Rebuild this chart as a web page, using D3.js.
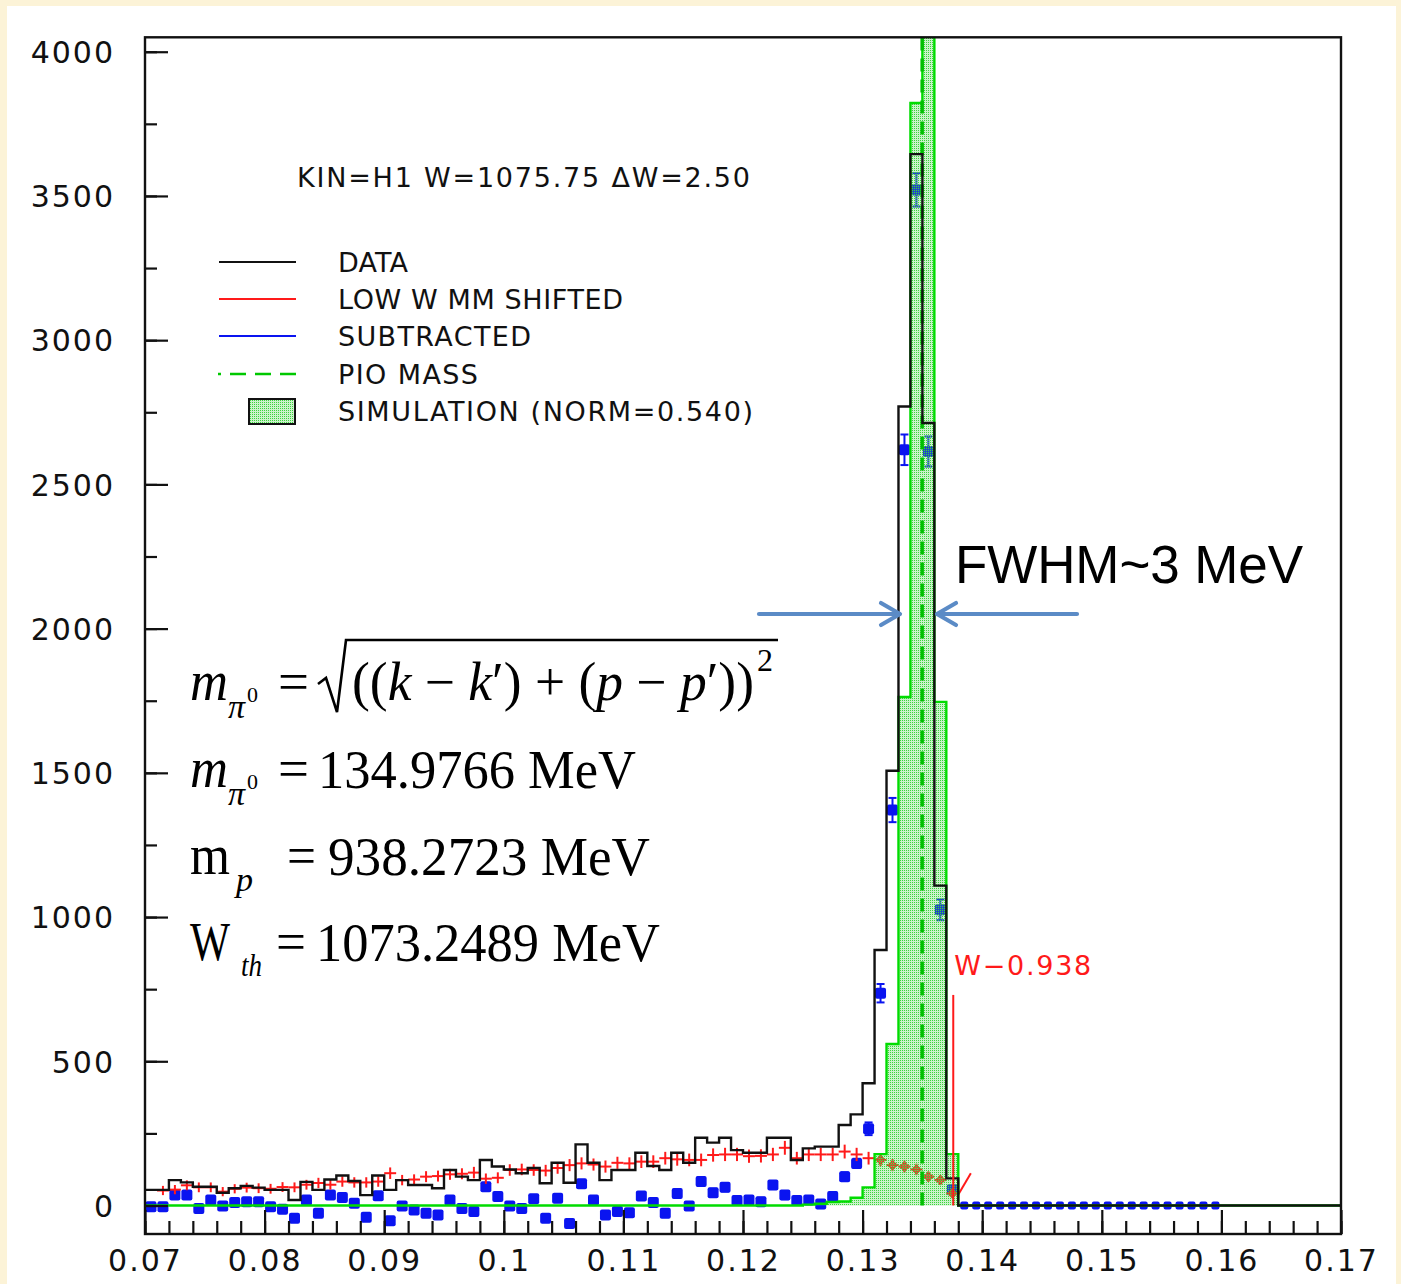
<!DOCTYPE html>
<html>
<head>
<meta charset="utf-8">
<script src="https://cdn.jsdelivr.net/npm/d3@7"></script>
<style>
  html, body { margin: 0; padding: 0; background: #fcf3d7; }
  svg { display: block; }
  .root-text { font-family: "DejaVu Sans", sans-serif; fill: #111; }
  .math { font-family: "Liberation Serif", "Times New Roman", serif; fill: #000; }
</style>
</head>
<body>
<svg id="chart" width="1401" height="1284"></svg>
<script>
// ---- Histogram binning of the missing mass (GeV) ----
const binStart = 0.07;
const binWidth = 0.001;

// DATA: counts per bin, 0.070 .. 0.170
const dataCounts = [
  54, 54, 88, 80, 65, 65, 44, 60, 68, 62,
  54, 54, 19, 82, 54, 90, 104, 85, 36, 104,
  54, 88, 71, 71, 60, 123, 100, 88, 158, 135,
  125, 112, 130, 77, 148, 79, 212, 148, 88, 123,
  123, 183, 137, 123, 183, 148, 235, 218, 235, 192,
  183, 183, 235, 235, 158, 198, 204, 204, 279, 316,
  424, 886, 1507, 2770, 3645, 2713, 1109, 94, 0, 0,
  0, 0, 0, 0, 0, 0, 0, 0, 0, 0,
  0, 0, 0, 0, 0, 0, 0, 0, 0, 0,
  0, 0, 0, 0, 0, 0, 0, 0, 0, 0
];

// LOW W MM SHIFTED: counts per bin starting at bin 1 (0.071)
const shiftedCounts = [
  52, 55, 70, 63, 63, 48, 58, 62, 60,
  58, 64, 63, 72, 78, 72, 83, 80, 80, 83,
  112, 88, 90, 100, 102, 108, 110, 114, 93, 96,
  123, 125, 123, 121, 130, 140, 146, 142, 135, 148,
  146, 152, 152, 164, 160, 158, 158, 175, 177, 177,
  171, 172, 177, 200, 164, 177, 177, 177, 187, 177,
  164, 158, 140, 135, 125, 100, 88, 42
];
const shiftedErr = [
  16, 16, 17, 17, 17, 16, 16, 17, 17,
  17, 17, 17, 17, 18, 17, 18, 18, 18, 18,
  20, 18, 18, 19, 19, 19, 19, 20, 18, 19,
  20, 20, 20, 20, 20, 21, 21, 21, 21, 21,
  21, 22, 22, 22, 22, 22, 22, 23, 23, 23,
  23, 23, 23, 24, 22, 23, 23, 23, 24, 23,
  22, 22, 21, 21, 20, 18, 17, 12
];
// tail of the shifted spectrum past the kinematic end point
const shiftedTail = [[0.13787, 29], [0.13905, 112]];

// SUBTRACTED: counts per bin, 0.070 .. 0.160
const subtractedCounts = [
  -4, -4, 36, 36, -10, 19, -2, 10, 13, 13,
  -4, -13, -44, 19, -27, 36, 28, 8, -41, 34,
  -53, -2, -16, -27, -33, 19, -10, -21, 65, 31,
  -2, -10, 23, -44, 25, -62, 75, 19, -33, -21,
  -25, 33, 10, -27, 42, -2, 83, 44, 63, 17,
  19, 13, 71, 36, 17, 19, 5, 31, 100, 146,
  266, 736, 1371, 2620, 3521, 2614, 1025, 55, 0, 0,
  0, 0, 0, 0, 0, 0, 0, 0, 0, 0,
  0, 0, 0, 0, 0, 0, 0, 0, 0, 0
];
const subtractedErr = [
  8, 8, 9, 9, 8, 8, 8, 8, 8, 8,
  8, 8, 8, 9, 8, 9, 9, 9, 8, 9,
  9, 9, 9, 9, 9, 10, 10, 10, 11, 11,
  11, 11, 11, 11, 12, 12, 13, 12, 12, 12,
  12, 13, 13, 13, 13, 13, 14, 14, 14, 14,
  14, 14, 14, 14, 13, 14, 14, 14, 15, 16,
  22, 32, 42, 53, 58, 52, 36, 12, 3, 3,
  3, 3, 3, 3, 3, 3, 3, 3, 3, 3,
  3, 3, 3, 3, 3, 3, 3, 3, 3, 3
];

// SIMULATION (NORM=0.540): counts per bin, 0.070 .. 0.170
const simulationCounts = [
  0, 0, 0, 0, 0, 0, 0, 0, 0, 0,
  0, 0, 0, 0, 0, 0, 0, 0, 0, 0,
  0, 0, 0, 0, 0, 0, 0, 0, 0, 0,
  0, 0, 0, 0, 0, 0, 0, 0, 0, 0,
  0, 0, 0, 0, 0, 0, 0, 0, 0, 0,
  0, 0, 0, 0, 0, 3, 6, 12, 14, 27,
  63, 178, 560, 1763, 3822, 4600, 1746, 178, 0, 0,
  0, 0, 0, 0, 0, 0, 0, 0, 0, 0,
  0, 0, 0, 0, 0, 0, 0, 0, 0, 0,
  0, 0, 0, 0, 0, 0, 0, 0, 0, 0
];

// reference lines
const pi0Mass = 0.13498;          // PIO MASS (GeV)
const endPoint = 0.13758;         // W-0.938
const endPointTop = 730;

// axes
const xTickValues = [0.07, 0.08, 0.09, 0.10, 0.11, 0.12, 0.13, 0.14, 0.15, 0.16, 0.17];
const xTickLabels = ["0.07", "0.08", "0.09", "0.1", "0.11", "0.12", "0.13", "0.14", "0.15", "0.16", "0.17"];
const yTickValues = [0, 500, 1000, 1500, 2000, 2500, 3000, 3500, 4000];
const yTickLabels = ["0", "500", "1000", "1500", "2000", "2500", "3000", "3500", "4000"];

// legend entries
const legendItems = ["DATA", "LOW W MM SHIFTED", "SUBTRACTED", "PIO MASS", "SIMULATION (NORM=0.540)"];
const kinLabel = "KIN=H1 W=1075.75 \u0394W=2.50";

// ---------------------------------------------------------------
const svg = d3.select("#chart");
const frame = { left: 145, right: 1341, top: 37.3, bottom: 1234 };
const x = d3.scaleLinear().domain([0.07, 0.17]).range([frame.left, frame.right]);
const y = d3.scaleLinear().domain([0, 4050]).range([1205.5, frame.top]);

const GREEN = "#00dc00";
const RED = "#ff1a1a";
const BLUE = "#0a14f0";

// white panel
svg.append("rect").attr("x", 7).attr("y", 6).attr("width", 1389).attr("height", 1284).attr("fill", "#fff");

const defs = svg.append("defs");
// ROOT-style dotted hatch: translucent light green with darker dots
const pat = defs.append("pattern").attr("id", "simFill")
  .attr("patternUnits", "userSpaceOnUse").attr("width", 2).attr("height", 2);
pat.append("rect").attr("width", 2).attr("height", 2).attr("fill", "rgba(80,215,80,0.3)");
pat.append("rect").attr("x", 0).attr("y", 0).attr("width", 1).attr("height", 1).attr("fill", "#3cd43c");

defs.append("clipPath").attr("id", "plotClip").append("rect")
  .attr("x", frame.left).attr("y", frame.top)
  .attr("width", frame.right - frame.left).attr("height", frame.bottom - frame.top);

const plot = svg.append("g").attr("clip-path", "url(#plotClip)");

const lo = i => binStart + i * binWidth;
const hi = i => binStart + (i + 1) * binWidth;
const mid = i => binStart + (i + 0.5) * binWidth;

// step outline of a histogram
function stepPoints(counts, closeBase) {
  const pts = [];
  if (closeBase) pts.push([x(lo(0)), y(0)]);
  counts.forEach((c, i) => { pts.push([x(lo(i)), y(c)]); pts.push([x(hi(i)), y(c)]); });
  if (closeBase) pts.push([x(hi(counts.length - 1)), y(0)]);
  return pts;
}
const line = d3.line();

// ---- SUBTRACTED: filled squares with error bars ----
const sub = plot.append("g");
subtractedCounts.forEach((c, i) => {
  const cx = x(mid(i)), cy = y(c);
  const e = subtractedErr[i];
  const g = sub.append("g").attr("stroke", BLUE).attr("stroke-width", 2);
  if (e > 10) {
    g.append("line").attr("x1", cx).attr("x2", cx).attr("y1", y(c - e)).attr("y2", y(c + e));
    g.append("line").attr("x1", cx - 4).attr("x2", cx + 4).attr("y1", y(c - e)).attr("y2", y(c - e));
    g.append("line").attr("x1", cx - 4).attr("x2", cx + 4).attr("y1", y(c + e)).attr("y2", y(c + e));
  }
  const s = i >= 68 ? 8 : 11;
  sub.append("rect").attr("x", cx - s / 2).attr("y", cy - s / 2).attr("width", s).attr("height", s)
    .attr("rx", 2).attr("fill", BLUE);
});

// ---- LOW W MM SHIFTED: bin-wide bars with vertical error bars ----
const sh = plot.append("g").attr("stroke", RED).attr("stroke-width", 2).attr("fill", "none");
shiftedCounts.forEach((c, k) => {
  const i = k + 1;
  const e = shiftedErr[k];
  sh.append("line").attr("x1", x(lo(i))).attr("x2", x(hi(i))).attr("y1", y(c)).attr("y2", y(c));
  sh.append("line").attr("x1", x(mid(i))).attr("x2", x(mid(i))).attr("y1", y(c - e)).attr("y2", y(c + e));
  if (mid(i) > 0.131) {
    const cx = x(mid(i)), cy = y(c);
    sh.append("path").attr("d", `M${cx - 4},${cy}L${cx},${cy - 4}L${cx + 4},${cy}L${cx},${cy + 4}Z`);
  }
});
plot.append("path").attr("d", line(shiftedTail.map(d => [x(d[0]), y(d[1])])))
  .attr("stroke", RED).attr("stroke-width", 2).attr("fill", "none");

// ---- SIMULATION: pattern-filled histogram ----
const simPts = stepPoints(simulationCounts, true);
plot.append("path").attr("d", line(simPts) + "Z").attr("fill", "url(#simFill)").attr("stroke", "none");
plot.append("path").attr("d", line(simPts)).attr("fill", "none")
  .attr("stroke", GREEN).attr("stroke-width", 2.4);

// ---- PIO MASS line ----
plot.append("line").attr("x1", x(pi0Mass)).attr("x2", x(pi0Mass)).attr("y1", y(0)).attr("y2", y(4050))
  .attr("stroke", "#00c000").attr("stroke-width", 3.5).attr("stroke-dasharray", "13,8");

// ---- DATA histogram ----
plot.append("path").attr("d", line(stepPoints(dataCounts, false))).attr("fill", "none")
  .attr("stroke", "#111").attr("stroke-width", 2.4);

// ---- W-0.938 end point ----
svg.append("line").attr("x1", x(endPoint)).attr("x2", x(endPoint)).attr("y1", y(0)).attr("y2", y(endPointTop))
  .attr("stroke", RED).attr("stroke-width", 2);
svg.append("text").attr("class", "root-text").attr("x", x(endPoint) + 1).attr("y", 975)
  .attr("font-size", 27).style("fill", RED).attr("textLength", 137)
  .text("W\u22120.938");

// ---- frame and axes ----
svg.append("rect").attr("x", frame.left).attr("y", frame.top)
  .attr("width", frame.right - frame.left).attr("height", frame.bottom - frame.top)
  .attr("fill", "none").attr("stroke", "#111").attr("stroke-width", 2.4);

const yMinor = d3.range(0, 4001, 250);
const yAxisMinor = d3.axisLeft(y).tickValues(yMinor).tickSizeInner(-12).tickSizeOuter(0).tickFormat("");
const yAxis = d3.axisLeft(y).tickValues(yTickValues).tickSizeInner(-23).tickSizeOuter(0)
  .tickPadding(30).tickFormat((d, i) => yTickLabels[i]);
const gyMinor = svg.append("g").attr("transform", `translate(${frame.left},0)`).call(yAxisMinor);
const gy = svg.append("g").attr("transform", `translate(${frame.left},0)`).call(yAxis);

const xMinor = d3.range(0, 51).map(k => 0.07 + k * 0.002);
const xAxisMinor = d3.axisBottom(x).tickValues(xMinor).tickSizeInner(-13).tickSizeOuter(0).tickFormat("");
const xAxis = d3.axisBottom(x).tickValues(xTickValues).tickSizeInner(-24).tickSizeOuter(0)
  .tickPadding(16).tickFormat((d, i) => xTickLabels[i]);
const gxMinor = svg.append("g").attr("transform", `translate(0,${frame.bottom})`).call(xAxisMinor);
const gx = svg.append("g").attr("transform", `translate(0,${frame.bottom})`).call(xAxis);

[gy, gyMinor, gx, gxMinor].forEach(g => {
  g.select(".domain").remove();
  g.selectAll(".tick line").attr("stroke", "#111").attr("stroke-width", 2.2);
  g.selectAll(".tick text").attr("class", "root-text").attr("font-size", 30)
    .attr("fill", "#111").style("letter-spacing", "2px");
});
gy.selectAll(".tick text").attr("dy", "0.36em");

// ---- KIN label and legend ----
svg.append("text").attr("class", "root-text").attr("x", 297).attr("y", 187)
  .attr("font-size", 27).attr("textLength", 453).text(kinLabel);

const legendY = [262, 299, 336, 374, 411];
const lg = svg.append("g");
lg.append("line").attr("x1", 219).attr("x2", 296).attr("y1", legendY[0]).attr("y2", legendY[0])
  .attr("stroke", "#111").attr("stroke-width", 2);
lg.append("line").attr("x1", 219).attr("x2", 296).attr("y1", legendY[1]).attr("y2", legendY[1])
  .attr("stroke", RED).attr("stroke-width", 2);
lg.append("line").attr("x1", 219).attr("x2", 296).attr("y1", legendY[2]).attr("y2", legendY[2])
  .attr("stroke", BLUE).attr("stroke-width", 2);
lg.append("line").attr("x1", 296).attr("x2", 218).attr("y1", legendY[3]).attr("y2", legendY[3])
  .attr("stroke", "#00c800").attr("stroke-width", 2.5).attr("stroke-dasharray", "16,9");
lg.append("rect").attr("x", 249).attr("y", legendY[4] - 12).attr("width", 46).attr("height", 25)
  .attr("fill", "url(#simFill)").attr("stroke", "#111").attr("stroke-width", 2);
const legendLen = [70, 285, 193, 140, 415];
legendItems.forEach((t, i) => {
  lg.append("text").attr("class", "root-text").attr("x", 338).attr("y", legendY[i] + 10)
    .attr("font-size", 27).attr("textLength", legendLen[i]).text(t);
});

// ---- kinematics formulas ----
const fm = svg.append("g").attr("class", "math");
function put(txt, px, py, size, italic, len) {
  const t = fm.append("text").attr("x", px).attr("y", py).attr("font-size", size).text(txt);
  if (italic) t.attr("font-style", "italic");
  if (len) t.attr("textLength", len).attr("lengthAdjust", "spacingAndGlyphs");
  return t;
}
// line 1: invariant mass
put("m", 190, 700, 56, true, 38);
put("\u03c0", 228, 718, 34, true);
put("0", 247, 702, 22, false);
put("=", 278, 700, 54, false, 31);
fm.append("path").attr("d", "M318,684 L326,678 L337,712 L346,640 L778,640")
  .attr("fill", "none").attr("stroke", "#000").attr("stroke-width", 2.6);
const l1 = fm.append("text").attr("x", 352).attr("y", 700).attr("font-size", 54)
  .attr("textLength", 402).attr("lengthAdjust", "spacingAndGlyphs");
[["((", false], ["k", true], [" \u2212 ", false], ["k", true], ["\u2032) + (", false],
 ["p", true], [" \u2212 ", false], ["p", true], ["\u2032))", false]].forEach(([s, it]) => {
  const ts = l1.append("tspan").text(s);
  if (it) ts.attr("font-style", "italic");
});
put("2", 757, 671, 32, false);
// line 2: pion mass
put("m", 190, 787, 56, true, 38);
put("\u03c0", 228, 805, 34, true);
put("0", 247, 789, 22, false);
put("=", 278, 787, 54, false, 31);
put("134.9766 MeV", 318, 788, 54, false, 318);
// line 3: proton mass
put("m", 190, 874, 56, false, 40);
put("p", 236, 891, 34, true);
put("=", 287, 874, 54, false, 29);
put("938.2723 MeV", 328, 875, 54, false, 322);
// line 4: threshold
put("W", 190, 960, 54, false, 40);
put("th", 241, 976, 32, true, 21);
put("=", 276, 960, 54, false, 30);
put("1073.2489 MeV", 316, 961, 54, false, 344);

// ---- resolution annotation ----
svg.append("text").attr("x", 955).attr("y", 583)
  .attr("font-family", "Liberation Sans, Arial, sans-serif").attr("font-size", 53).attr("fill", "#000")
  .attr("textLength", 348).text("FWHM~3 MeV");
const ARROW = "#5b8bc6";
const ar = svg.append("g").attr("stroke", ARROW).attr("stroke-width", 4.2)
  .attr("stroke-linecap", "round").attr("stroke-linejoin", "round").attr("fill", "none");
ar.append("line").attr("x1", 759).attr("x2", 899).attr("y1", 614).attr("y2", 614);
ar.append("path").attr("d", "M881,603 L900,614 L881,625");
ar.append("line").attr("x1", 1077).attr("x2", 939).attr("y1", 614).attr("y2", 614);
ar.append("path").attr("d", "M956,603 L937,614 L956,625");
</script>
</body>
</html>
